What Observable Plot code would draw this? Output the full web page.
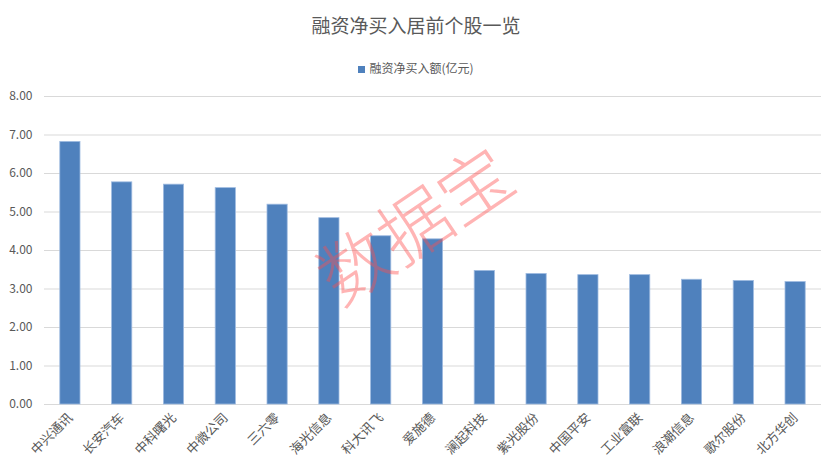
<!DOCTYPE html>
<html>
<head>
<meta charset="utf-8">
<script src="https://cdn.jsdelivr.net/npm/d3@7"></script>
<script src="https://cdn.jsdelivr.net/npm/@observablehq/plot@0.6"></script>
<style>
  html, body { margin: 0; padding: 0; background: #fff; }
  body { width: 832px; height: 472px; position: relative; overflow: hidden;
         font-family: "Noto Sans CJK SC", "Microsoft YaHei", sans-serif; color: #595959; }
  #title { position: absolute; left: 0; top: 12px; width: 832px; text-align: center;
           font-size: 19px; line-height: 26px; color: #595959; }
  #legend { position: absolute; left: 0; top: 59px; width: 832px; text-align: center;
            font-size: 12px; line-height: 18px; color: #595959; }
  #legend .sw { display: inline-block; width: 7px; height: 7px; background: #4F81BD;
                margin-right: 4px; vertical-align: 0px; }
  #chart { position: absolute; left: 0; top: 80px; }
</style>
</head>
<body>
<div id="title">融资净买入居前个股一览</div>
<div id="legend"><span class="sw"></span>融资净买入额(亿元)</div>
<div id="chart"></div>
<script>
const stocks = ["中兴通讯","长安汽车","中科曙光","中微公司","三六零","海光信息","科大讯飞","爱施德","澜起科技","紫光股份","中国平安","工业富联","浪潮信息","歌尔股份","北方华创"];
const netBuy = [6.82, 5.77, 5.71, 5.62, 5.19, 4.84, 4.37, 4.29, 3.47, 3.39, 3.36, 3.36, 3.24, 3.21, 3.18];
const yTicks = [0, 1, 2, 3, 4, 5, 6, 7, 8];
const seriesName = "融资净买入额(亿元)";
const watermark = "数据宝";

const data = stocks.map((s, i) => ({stock: s, value: netBuy[i]}));

const chart = Plot.plot({
  width: 832,
  height: 392,
  marginTop: 16,
  marginBottom: 68,
  marginLeft: 44,
  marginRight: 11,
  style: {fontFamily: '"Noto Sans CJK SC", sans-serif', fontSize: "12px", color: "#595959", background: "#fff"},
  x: {domain: stocks, paddingInner: 0.61, paddingOuter: 0.305, round: false, label: null},
  y: {domain: [0, 8], label: null},
  marks: [
    Plot.gridY(yTicks, {stroke: "#d9d9d9", strokeOpacity: 1}),
    Plot.barY(data, {x: "stock", y: "value", fill: "#4F81BD", stroke: "#9fbbe0", strokeWidth: 0.8}),
    Plot.axisY(yTicks, {tickSize: 0, tickPadding: 12, tickFormat: d3.format(".2f"), fill: "#595959", fontSize: 12, label: null}),
    Plot.axisX({tickSize: 0, tickPadding: 11, tickRotate: -45, fill: "#595959", fontSize: 13, label: null}),
    Plot.text([watermark], {frameAnchor: "middle", dx: -16, dy: -22,
      rotate: -34, fontSize: 72, fill: "#ff4d4d", fillOpacity: 0.42, fontWeight: 300})
  ]
});
document.getElementById("chart").appendChild(chart);
</script>
</body>
</html>
